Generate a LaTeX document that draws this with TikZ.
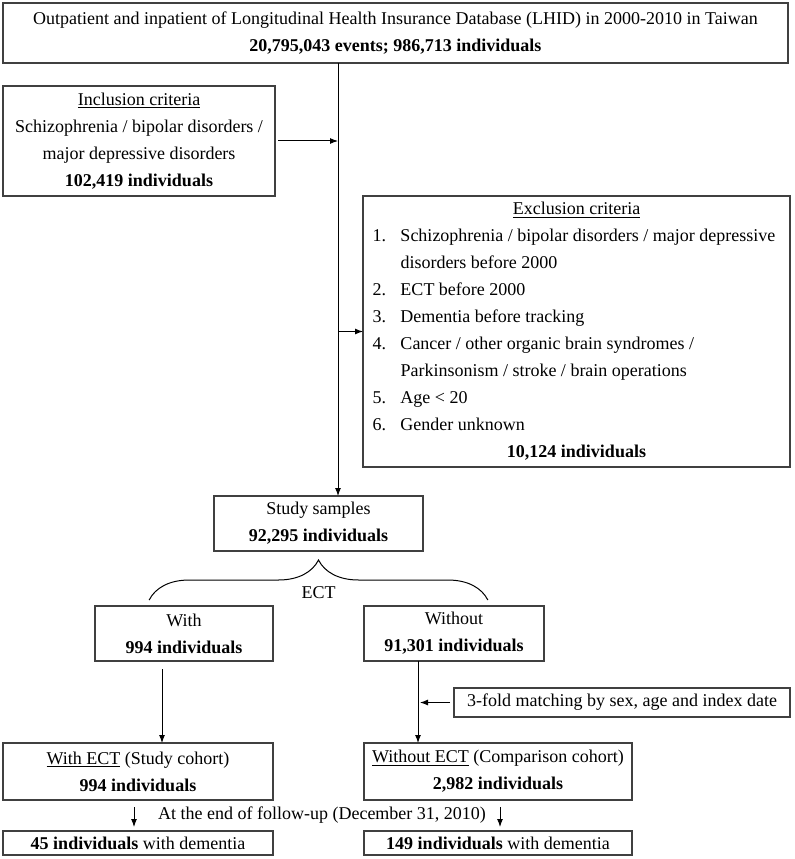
\documentclass[tikz,border=0pt]{standalone}
\usepackage{fontspec}
\setmainfont{Liberation Serif}
\usetikzlibrary{arrows.meta, decorations.pathreplacing}

\newcommand{\exitem}[2]{\makebox[306pt][l]{\makebox[21pt][l]{#1}#2}}

\begin{document}
\begin{tikzpicture}[
    x=1pt, y=1pt,
    box/.style={rectangle, draw=black!75, line width=0.8pt, align=center, inner sep=0pt, outer sep=0pt, font=\fontsize{13.5}{20.25}\selectfont},
    source/.style={box, minimum width=588.75pt, minimum height=45pt},
    criteria/.style={box, minimum height=82.5pt},
    group/.style={box, minimum height=41.25pt},
    cohort/.style={box, minimum height=42.75pt},
    outcome/.style={box, minimum height=18pt},
    note/.style={font=\fontsize{13.5}{16}\selectfont, inner sep=0pt},
    arrow/.style={-{Latex[length=6pt, width=4.5pt]}, line width=0.75pt},
    ectbrace/.style={decorate, decoration={brace, amplitude=30pt}, line width=0.75pt}
]
    \useasboundingbox (0,0) rectangle (595.5,-644.25);

    % Top: database
    \node[source, anchor=north west] (lhid) at (2.25,-2.25)
        {Outpatient and inpatient of Longitudinal Health Insurance Database (LHID) in 2000-2010 in Taiwan\\
         \textbf{20,795,043 events; 986,713 individuals}};

    % Inclusion and exclusion
    \node[criteria, minimum width=204pt, anchor=north west, at=(lhid.south west), yshift=-17.25pt] (incl)
        {\underline{Inclusion criteria}\\
         Schizophrenia / bipolar disorders /\\
         major depressive disorders\\
         \textbf{102,419 individuals}};
    \node[box, minimum width=320.25pt, minimum height=203.25pt, anchor=north west, at=(incl.south east), xshift=66pt] (excl)
        {\underline{Exclusion criteria}\\
         \exitem{1.}{Schizophrenia / bipolar disorders / major depressive}\\
         \exitem{}{disorders before 2000}\\
         \exitem{2.}{ECT before 2000}\\
         \exitem{3.}{Dementia before tracking}\\
         \exitem{4.}{Cancer / other organic brain syndromes /}\\
         \exitem{}{Parkinsonism / stroke / brain operations}\\
         \exitem{5.}{Age < 20}\\
         \exitem{6.}{Gender unknown}\\
         \textbf{10,124 individuals}};

    % Study samples
    \node[group, minimum width=156.75pt, anchor=north east, at=(excl.south west), xshift=45pt, yshift=-21.75pt] (study)
        {Study samples\\ \textbf{92,295 individuals}};

    % ECT split
    \coordinate (braceL) at ([xshift=-127pt, yshift=-36.75pt]study.south);
    \coordinate (braceR) at ([xshift=127pt, yshift=-36.75pt]study.south);
    \node[note, at=(study.south), yshift=-31.5pt] (ect) {ECT};
    \node[group, minimum width=133.5pt, anchor=north east, at=(study.south), xshift=-34.125pt, yshift=-41.25pt] (with)
        {With\\ \textbf{994 individuals}};
    \node[group, minimum width=135pt, anchor=north west, at=(study.south), xshift=34.125pt, yshift=-41.25pt] (without)
        {Without\\ \textbf{91,301 individuals}};

    % Matching
    \node[box, minimum width=252pt, minimum height=21.75pt, anchor=north west, at=(without.south west), xshift=67.5pt, yshift=-20.25pt] (match)
        {3-fold matching by sex, age and index date};

    % Cohorts
    \node[cohort, minimum width=202.5pt, anchor=north east, at=(with.south east), yshift=-61.5pt] (withect)
        {\underline{With ECT} (Study cohort)\\ \textbf{994 individuals}};
    \node[cohort, minimum width=201pt, anchor=north west, at=(without.south west), yshift=-61.5pt] (withoutect)
        {\underline{Without ECT} (Comparison cohort)\\ \textbf{2,982 individuals}};

    % Follow-up
    \node[note] (followup) at (241.5,-611.25) {At the end of follow-up (December 31, 2010)};
    \node[outcome, minimum width=202.5pt, anchor=north east, at=(withect.south east), yshift=-23.25pt] (dem1)
        {\textbf{45 individuals} with dementia};
    \node[outcome, minimum width=201pt, anchor=north west, at=(withoutect.south west), yshift=-23.25pt] (dem2)
        {\textbf{149 individuals} with dementia};

    % Connectors
    \coordinate (trunk) at (253.5,0);
    \coordinate (withline) at (121.5,0);
    \coordinate (woline) at (313.5,0);
    \coordinate (fu1) at (100.5,0);
    \coordinate (fu2) at (375,0);
    \draw[arrow] (lhid.south -| trunk) -- (study.north -| trunk);
    \draw[arrow] ([xshift=2.25pt]incl.east) -- (incl.east -| trunk);
    \draw[arrow] (excl.west -| trunk) -- (excl.west);
    \draw[ectbrace] (braceL) -- (braceR);
    \draw[arrow] ([yshift=-6pt]with.south -| withline) -- (withect.north -| withline);
    \draw[arrow] (without.south -| woline) -- (withoutect.north -| woline);
    \draw[arrow] ([xshift=-3pt]match.west) -- ([xshift=1.5pt]match.west -| woline);
    \draw[arrow] ([yshift=-5.25pt]withect.south -| fu1) -- ([yshift=3pt]dem1.north -| fu1);
    \draw[arrow] ([yshift=-5.25pt]withoutect.south -| fu2) -- ([yshift=3pt]dem2.north -| fu2);
\end{tikzpicture}
\end{document}
